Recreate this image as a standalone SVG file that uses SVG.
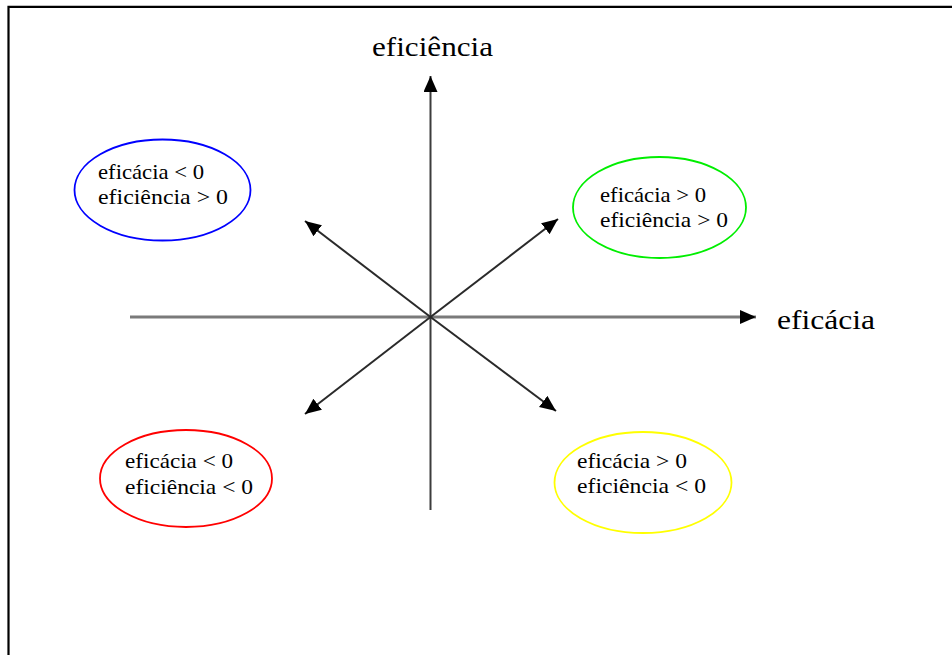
<svg xmlns="http://www.w3.org/2000/svg" width="952" height="655" viewBox="0 0 952 655">
  <style>
    .lbl { font-family: "Liberation Serif", "Times New Roman", serif; font-size: 22px; fill: #000; }
    .axis-lbl { font-family: "Liberation Serif", "Times New Roman", serif; font-size: 27px; fill: #000; }
    .zone { fill: none; stroke-width: 1.8; }
    .diag { stroke: #2a2a2a; stroke-width: 2; fill: none; }
  </style>
  <defs>
    <marker id="head" markerUnits="userSpaceOnUse" markerWidth="17" markerHeight="15" refX="16" refY="7" orient="auto">
      <path d="M0,0 L16,7 L0,14 Z" fill="#000"/>
    </marker>
  </defs>

  <rect width="952" height="655" fill="#fff"/>
  <!-- frame: top and left edges only -->
  <path d="M8.5,655 V6.8 H952" fill="none" stroke="#000" stroke-width="2.2"/>

  <g id="connectors">
    <line id="axis-x" x1="130" y1="317" x2="756" y2="317" stroke="#7a7a7a" stroke-width="3" marker-end="url(#head)"/>
    <line id="axis-y" x1="430.5" y1="510" x2="430.5" y2="76" stroke="#3c3c3c" stroke-width="2" marker-end="url(#head)"/>
    <line class="diag" x1="430.5" y1="317" x2="305" y2="221" marker-end="url(#head)"/>
    <line class="diag" x1="430.5" y1="317" x2="558" y2="219" marker-end="url(#head)"/>
    <line class="diag" x1="430.5" y1="317" x2="305" y2="414" marker-end="url(#head)"/>
    <line class="diag" x1="430.5" y1="317" x2="556" y2="411" marker-end="url(#head)"/>
  </g>

  <g id="label-eficiencia">
    <text class="axis-lbl" x="372" y="56" textLength="121" lengthAdjust="spacingAndGlyphs">eficiência</text>
  </g>
  <g id="label-eficacia">
    <text class="axis-lbl" x="777" y="329" textLength="98" lengthAdjust="spacingAndGlyphs">eficácia</text>
  </g>

  <g id="quadrant-nw">
    <ellipse class="zone" cx="162.5" cy="190" rx="88" ry="50.5" stroke="#0000ff"/>
    <text class="lbl" x="98" y="179" textLength="106" lengthAdjust="spacingAndGlyphs">eficácia &lt; 0</text>
    <text class="lbl" x="98" y="204" textLength="130" lengthAdjust="spacingAndGlyphs">eficiência &gt; 0</text>
  </g>

  <g id="quadrant-ne">
    <ellipse class="zone" cx="659.5" cy="207.5" rx="86.5" ry="50.5" stroke="#00ee00"/>
    <text class="lbl" x="600" y="202" textLength="106" lengthAdjust="spacingAndGlyphs">eficácia &gt; 0</text>
    <text class="lbl" x="600" y="227" textLength="128" lengthAdjust="spacingAndGlyphs">eficiência &gt; 0</text>
  </g>

  <g id="quadrant-sw">
    <ellipse class="zone" cx="186" cy="478.5" rx="86" ry="48.5" stroke="#ff0000"/>
    <text class="lbl" x="125" y="468" textLength="108" lengthAdjust="spacingAndGlyphs">eficácia &lt; 0</text>
    <text class="lbl" x="125" y="494" textLength="128" lengthAdjust="spacingAndGlyphs">eficiência &lt; 0</text>
  </g>

  <g id="quadrant-se">
    <ellipse class="zone" cx="643" cy="482.5" rx="88.5" ry="50.5" stroke="#ffff00"/>
    <text class="lbl" x="577" y="468" textLength="110" lengthAdjust="spacingAndGlyphs">eficácia &gt; 0</text>
    <text class="lbl" x="577" y="493" textLength="129" lengthAdjust="spacingAndGlyphs">eficiência &lt; 0</text>
  </g>
</svg>
